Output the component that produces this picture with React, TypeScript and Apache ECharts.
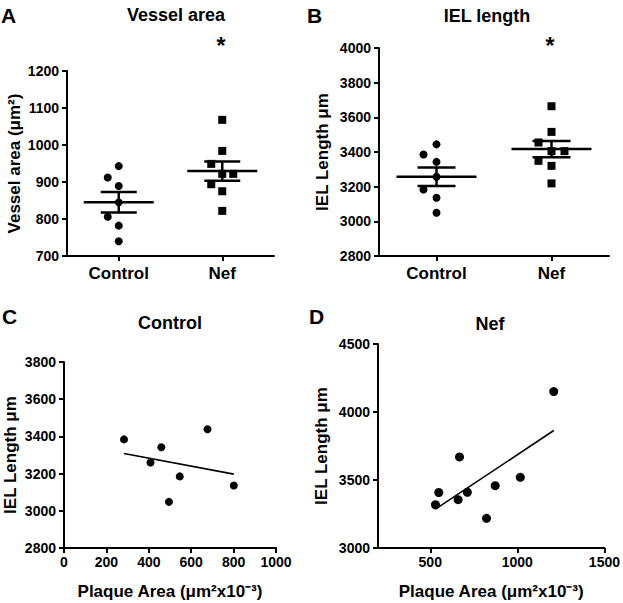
import React, { useEffect, useRef } from "react";
import * as echarts from "echarts";

const groups = ["Control", "Nef"];
// Panel A: vessel area (µm²)
const vesselControl = [943, 912, 889, 845, 806, 782, 740];
const vesselNef = [1068, 984, 949, 922, 922, 894, 875, 822];
// Panel B: IEL length (µm)
const ielControl = [3444, 3386, 3343, 3257, 3184, 3136, 3050];
const ielNef = [3664, 3516, 3455, 3405, 3405, 3349, 3320, 3219];
// Panel C: Control correlation
const plaqueControl = [283, 408, 459, 546, 495, 677, 801];
const ielCorrControl = [3384, 3260, 3342, 3185, 3048, 3438, 3136];
// Panel D: Nef correlation
const plaqueNef = [530, 549, 660, 668, 713, 823, 873, 1017, 1209];
const ielCorrNef = [3318, 3408, 3355, 3670, 3410, 3218, 3458, 3520, 4150];
// Tick values for panel D x axis
const plaqueNefTicks = [500, 1000, 1500];

// horizontal jitter (px) of the dot plots – styling only
const jitterVesselControl = [0, -11, 0, 0, -11, 0, 0];
const jitterVesselNef = [0, 0, -11, 0, 11, -11, 0, 0];
const jitterIelControl = [0, -13, 0, 0, -13, 0, 0];
const jitterIelNef = [0, 0, -13, 0, 13, -13, 0, 0];

const FONT = '"Liberation Sans", Arial, Helvetica, sans-serif';

function meanSem(a: number[]) {
  const n = a.length;
  const m = a.reduce((s, v) => s + v, 0) / n;
  const sd = Math.sqrt(a.reduce((s, v) => s + (v - m) * (v - m), 0) / (n - 1));
  const sem = sd / Math.sqrt(n);
  return [m, m - sem, m + sem];
}

function regression(xs: number[], ys: number[]) {
  const n = xs.length;
  const mx = xs.reduce((s, v) => s + v, 0) / n;
  const my = ys.reduce((s, v) => s + v, 0) / n;
  let sxy = 0, sxx = 0;
  for (let i = 0; i < n; i++) {
    sxy += (xs[i] - mx) * (ys[i] - my);
    sxx += (xs[i] - mx) * (xs[i] - mx);
  }
  const b = sxy / sxx;
  const a = my - b * mx;
  const x0 = Math.min(...xs), x1 = Math.max(...xs);
  return [[x0, a + b * x0], [x1, a + b * x1]];
}

const plain = (v: number) => String(v);
const axisLine = { show: true, lineStyle: { color: "#000", width: 2 } };
const axisTick = { show: true, length: 5, lineStyle: { color: "#000", width: 2 } };
const tickLabel = { color: "#000", fontFamily: FONT, fontWeight: "bold" as const, fontSize: 14, formatter: plain };
const nameStyle = { color: "#000", fontFamily: FONT, fontWeight: "bold" as const, fontSize: 17 };

function yAxis(gridIndex: number, min: number, max: number, interval: number, name: string, nameGap: number) {
  return {
    type: "value",
    gridIndex,
    min,
    max,
    interval,
    name,
    nameLocation: "middle",
    nameGap,
    nameTextStyle: nameStyle,
    axisLine,
    axisTick,
    axisLabel: { ...tickLabel, margin: 8 },
    splitLine: { show: false },
  };
}

function catAxis(gridIndex: number) {
  return {
    type: "category",
    gridIndex,
    data: groups,
    boundaryGap: true,
    axisLine,
    axisTick: { ...axisTick, alignWithLabel: true },
    axisLabel: { color: "#000", fontFamily: FONT, fontWeight: "bold", fontSize: 17, margin: 9 },
    splitLine: { show: false },
  };
}

function dots(idx: number, cat: number, vals: number[], jitter: number[], symbol: string) {
  return {
    type: "scatter",
    xAxisIndex: idx,
    yAxisIndex: idx,
    symbol,
    symbolSize: 8,
    itemStyle: { color: "#000", opacity: 1 },
    data: vals.map((v, i) => ({ value: [cat, v], symbolOffset: [jitter[i], 0] })),
  };
}

function meanBars(idx: number, a: number[], b: number[], meanHalf: number, semHalf: number) {
  return {
    type: "custom",
    xAxisIndex: idx,
    yAxisIndex: idx,
    z: 5,
    data: [
      [0, ...meanSem(a)],
      [1, ...meanSem(b)],
    ],
    renderItem: (_p: any, api: any) => {
      const c = api.coord([api.value(0), api.value(1)]);
      const l = api.coord([api.value(0), api.value(2)]);
      const h = api.coord([api.value(0), api.value(3)]);
      const style = { stroke: "#000", lineWidth: 2.5 };
      return {
        type: "group",
        children: [
          { type: "line", shape: { x1: c[0] - meanHalf, y1: c[1], x2: c[0] + meanHalf, y2: c[1] }, style },
          { type: "line", shape: { x1: l[0] - semHalf, y1: l[1], x2: l[0] + semHalf, y2: l[1] }, style },
          { type: "line", shape: { x1: h[0] - semHalf, y1: h[1], x2: h[0] + semHalf, y2: h[1] }, style },
          { type: "line", shape: { x1: l[0], y1: l[1], x2: h[0], y2: h[1] }, style },
        ],
      };
    },
  };
}

function label(text: string, x: number, y: number, size: number, align = "center") {
  return {
    type: "text",
    x,
    y,
    style: {
      text,
      fill: "#000",
      fontFamily: FONT,
      fontWeight: "bold",
      fontSize: size,
      align,
      verticalAlign: "middle",
    },
  };
}

export default function App() {
  const ref = useRef<HTMLDivElement>(null);
  useEffect(() => {
    if (!ref.current) return;
    const chart = echarts.init(ref.current, undefined, { renderer: "svg" });
    const option: any = {
      animation: false,
      backgroundColor: "#fff",
      grid: [
        { left: 67, top: 71, width: 207, height: 185 },
        { left: 379, top: 48, width: 230, height: 208 },
        { left: 64, top: 362, width: 212, height: 186 },
        { left: 378, top: 344, width: 231, height: 204 },
      ],
      xAxis: [
        catAxis(0),
        catAxis(1),
        {
          type: "value",
          gridIndex: 2,
          min: 0,
          max: 1000,
          interval: 200,
          name: "Plaque Area (μm²x10⁻³)",
          nameLocation: "middle",
          nameGap: 35,
          nameTextStyle: nameStyle,
          axisLine,
          axisTick,
          axisLabel: { ...tickLabel, margin: 7 },
          splitLine: { show: false },
        },
        {
          type: "value",
          gridIndex: 3,
          min: 200,
          max: 1500,
          name: "Plaque Area (μm²x10⁻³)",
          nameLocation: "middle",
          nameGap: 35,
          nameTextStyle: nameStyle,
          axisLine,
          axisTick: { ...axisTick, customValues: plaqueNefTicks },
          axisLabel: { ...tickLabel, margin: 7, customValues: plaqueNefTicks },
          splitLine: { show: false },
        },
      ],
      yAxis: [
        yAxis(0, 700, 1200, 100, "Vessel area (μm²)", 44),
        yAxis(1, 2800, 4000, 200, "IEL Length μm", 48),
        yAxis(2, 2800, 3800, 200, "IEL Length μm", 45),
        yAxis(3, 3000, 4500, 500, "IEL Length μm", 48),
      ],
      series: [
        dots(0, 0, vesselControl, jitterVesselControl, "circle"),
        dots(0, 1, vesselNef, jitterVesselNef, "rect"),
        meanBars(0, vesselControl, vesselNef, 35, 18),
        dots(1, 0, ielControl, jitterIelControl, "circle"),
        dots(1, 1, ielNef, jitterIelNef, "rect"),
        meanBars(1, ielControl, ielNef, 40, 19),
        {
          type: "scatter",
          xAxisIndex: 2,
          yAxisIndex: 2,
          symbolSize: 8,
          itemStyle: { color: "#000", opacity: 1 },
          data: plaqueControl.map((x, i) => [x, ielCorrControl[i]]),
        },
        {
          type: "line",
          xAxisIndex: 2,
          yAxisIndex: 2,
          symbol: "none",
          lineStyle: { color: "#000", width: 1.6 },
          data: regression(plaqueControl, ielCorrControl),
        },
        {
          type: "scatter",
          xAxisIndex: 3,
          yAxisIndex: 3,
          symbolSize: 9,
          itemStyle: { color: "#000", opacity: 1 },
          data: plaqueNef.map((x, i) => [x, ielCorrNef[i]]),
        },
        {
          type: "line",
          xAxisIndex: 3,
          yAxisIndex: 3,
          symbol: "none",
          lineStyle: { color: "#000", width: 1.6 },
          data: regression(plaqueNef, ielCorrNef),
        },
      ],
      graphic: [
        label("A", 1, 15, 21, "left"),
        label("B", 307, 15, 21, "left"),
        label("C", 2, 316, 21, "left"),
        label("D", 309, 316, 21, "left"),
        label("Vessel area", 176, 15, 18),
        label("IEL length", 487, 16, 18),
        label("Control", 170, 323, 18),
        label("Nef", 490, 324, 18),
        label("*", 221, 46, 23),
        label("*", 550, 46, 23),
      ],
    };
    chart.setOption(option);
    return () => chart.dispose();
  }, []);
  return (
    <div
      ref={ref}
      style={{ position: "fixed", left: 0, top: 0, width: 623, height: 603, background: "#fff" }}
    />
  );
}
